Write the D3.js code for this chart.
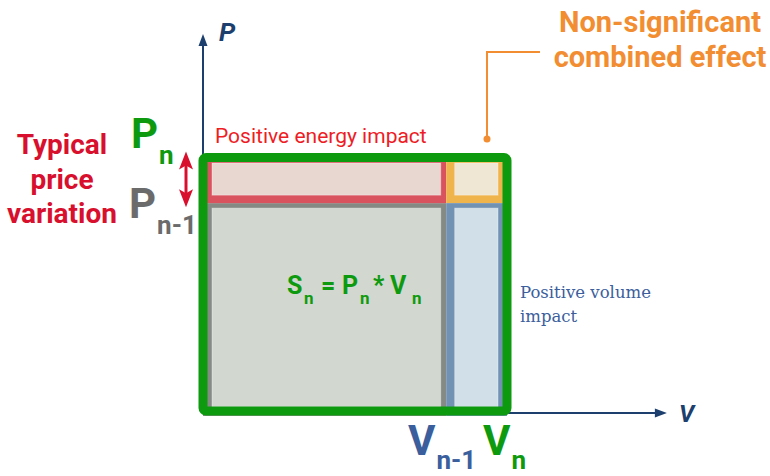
<!DOCTYPE html>
<html>
<head>
<meta charset="utf-8">
<script src="https://cdn.jsdelivr.net/npm/d3@7"></script>
<style>
  html, body { margin: 0; padding: 0; background: #ffffff; }
  svg { display: block; }
</style>
</head>
<body>
<svg id="chart" width="770" height="476"></svg>
<script>
// ---- data (relative units, previous period vs current period) ----
const volumeLevels = [0, 80, 100];   // 0, V(n-1), V(n)
const priceLevels  = [0, 82, 100];   // 0, P(n-1), P(n)
const axisMax = { volume: 152.6, price: 148.7 };
const cells = [
  { name: "base",     v: [0, 80],   p: [0, 82]   },
  { name: "energy",   v: [0, 80],   p: [82, 100] },
  { name: "combined", v: [80, 100], p: [82, 100] },
  { name: "volume",   v: [80, 100], p: [0, 82]   }
];
const labels = {
  pAxis: "P", vAxis: "V",
  energy: "Positive energy impact",
  volume: ["Positive volume", "impact"],
  combined: ["Non-significant", "combined effect"],
  variation: ["Typical", "price", "variation"]
};
const formulaParts = [
  { t: "S", sub: false }, { t: "n", sub: true }, { t: "=", sub: false },
  { t: "P", sub: false }, { t: "n", sub: true }, { t: "*", sub: false },
  { t: "V", sub: false }, { t: "n", sub: true }
];

// ---- styles ----
const colors = {
  axis: "#1c3f6e",
  green: "#0e9a0e",
  greyText: "#6b6b6b",
  blueText: "#3b5e9c",
  redText: "#d8102e",
  energyText: "#ee1c25",
  orange: "#f28d32"
};
const cellStyle = {
  base:     { stroke: "#858a85", fill: "#d2d7d0" },
  energy:   { stroke: "#d9535f", fill: "#e8d6d0" },
  combined: { stroke: "#f0b44c", fill: "#efe6d3" },
  volume:   { stroke: "#7292b4", fill: "#d0dfe8" }
};

const svg = d3.select("#chart");
const x = d3.scaleLinear().domain([0, 100]).range([203, 507]);
const y = d3.scaleLinear().domain([0, 100]).range([411, 157.5]);
const font = "Roboto, 'Noto Sans', sans-serif";

// ---- cells ----
const vMax = d3.max(volumeLevels), pMax = d3.max(priceLevels);
cells.forEach(c => {
  const st = cellStyle[c.name];
  const x0 = x(c.v[0]), x1 = x(c.v[1]);
  const yTop = y(c.p[1]), yBot = y(c.p[0]);
  const extraBottom = c.p[0] === 0 ? 5 : 0;
  svg.append("rect").attr("x", x0).attr("y", yTop)
    .attr("width", x1 - x0).attr("height", yBot - yTop + extraBottom)
    .attr("fill", st.stroke);
  const insL = c.v[0] === 0 ? 9 : 8.5;
  const insR = c.v[1] === vMax ? 9 : 5.5;
  const insT = c.p[1] === pMax ? 5.5 : 5;
  const insB = c.p[0] === 0 ? 4 : 8;
  svg.append("rect").attr("x", x0 + insL).attr("y", yTop + insT)
    .attr("width", x1 - x0 - insL - insR).attr("height", yBot - yTop - insT - insB)
    .attr("fill", st.fill)
    .attr("stroke", "rgba(255,255,255,0.35)").attr("stroke-width", 1);
});

// ---- axes ----
const axisG = svg.append("g");
axisG.append("line").attr("x1", x(0)).attr("x2", x(0))
  .attr("y1", y(0)).attr("y2", y(axisMax.price) + 10)
  .attr("stroke", colors.axis).attr("stroke-width", 2);
axisG.append("path")
  .attr("d", `M${x(0)},${y(axisMax.price)} L${x(0) - 4.5},${y(axisMax.price) + 12} L${x(0) + 4.5},${y(axisMax.price) + 12} Z`)
  .attr("fill", colors.axis);
axisG.append("line").attr("x1", x(0)).attr("x2", x(axisMax.volume) - 10)
  .attr("y1", y(0) + 2).attr("y2", y(0) + 2)
  .attr("stroke", colors.axis).attr("stroke-width", 2);
axisG.append("path")
  .attr("d", `M${x(axisMax.volume)},${y(0) + 2} L${x(axisMax.volume) - 12},${y(0) - 2.5} L${x(axisMax.volume) - 12},${y(0) + 6.5} Z`)
  .attr("fill", colors.axis);
axisG.append("text").attr("x", x(0) + 16).attr("y", 41)
  .attr("font-family", font).attr("font-weight", 700).attr("font-style", "italic")
  .attr("font-size", 26).attr("fill", colors.axis).text(labels.pAxis);
axisG.append("text").attr("x", x(axisMax.volume) + 12).attr("y", y(0) + 11)
  .attr("font-family", font).attr("font-weight", 700).attr("font-style", "italic")
  .attr("font-size", 24).attr("fill", colors.axis).text(labels.vAxis);

// ---- green outline of current period ----
svg.append("rect")
  .attr("x", x(0)).attr("y", y(pMax))
  .attr("width", x(vMax) - x(0)).attr("height", y(0) - y(pMax))
  .attr("rx", 3).attr("fill", "none")
  .attr("stroke", colors.green).attr("stroke-width", 9);

// ---- red double arrow ----
const ax = 186, aTop = y(priceLevels[2]) - 6, aBot = y(priceLevels[1]) + 4;
svg.append("line").attr("x1", ax).attr("x2", ax).attr("y1", aTop + 10).attr("y2", aBot - 10)
  .attr("stroke", colors.redText).attr("stroke-width", 3);
svg.append("path").attr("d", `M${ax},${aTop} L${ax - 7},${aTop + 18} L${ax},${aTop + 14} L${ax + 7},${aTop + 18} Z`)
  .attr("fill", colors.redText);
svg.append("path").attr("d", `M${ax},${aBot} L${ax - 7},${aBot - 18} L${ax},${aBot - 14} L${ax + 7},${aBot - 18} Z`)
  .attr("fill", colors.redText);

// ---- big P / V labels with subscripts ----
function bigLabel(main, sub, xPos, yBase, subDy, color) {
  const t = svg.append("text").attr("x", xPos).attr("y", yBase)
    .attr("font-family", font).attr("font-weight", 700).attr("fill", color);
  t.append("tspan").attr("font-size", 42).text(main);
  t.append("tspan").attr("font-size", 26).attr("dx", 1).attr("dy", subDy).text(sub);
}
bigLabel("P", "n", 131, 148, 16, colors.green);
bigLabel("P", "n-1", 129, 218, 16, colors.greyText);
bigLabel("V", "n-1", 408, 455, 14, colors.blueText);
bigLabel("V", "n", 483, 455, 14, colors.green);

// ---- formula ----
const fx = [287, 304, 321, 342, 360, 373, 390, 412];
const f = svg.append("text")
  .attr("font-family", font).attr("font-weight", 700).attr("fill", colors.green);
formulaParts.forEach((p, i) => {
  f.append("tspan").attr("x", fx[i]).attr("y", p.sub ? 304 : 294)
    .attr("font-size", p.sub ? 17 : 25).text(p.t);
});

// ---- annotations ----
svg.append("text").attr("x", 215).attr("y", 143)
  .attr("font-family", font).attr("font-size", 21).attr("fill", colors.energyText)
  .text(labels.energy);

const vt = svg.append("text").attr("font-family", "'DejaVu Serif', serif")
  .attr("font-size", 16.5).attr("fill", colors.blueText);
labels.volume.forEach((l, i) => vt.append("tspan").attr("x", 520).attr("y", 298 + i * 24).text(l));

const tv = svg.append("text").attr("text-anchor", "middle")
  .attr("font-family", font).attr("font-weight", 700).attr("font-size", 28)
  .attr("fill", colors.redText);
labels.variation.forEach((l, i) => tv.append("tspan").attr("x", 62).attr("y", 154 + i * 34.5).text(l));

const ct = svg.append("text").attr("text-anchor", "middle")
  .attr("font-family", font).attr("font-weight", 700).attr("font-size", 29)
  .attr("fill", colors.orange);
labels.combined.forEach((l, i) => ct.append("tspan").attr("x", 660).attr("y", 32 + i * 35).text(l));

svg.append("path").attr("d", "M540,52 H487 V139").attr("fill", "none")
  .attr("stroke", colors.orange).attr("stroke-width", 2);
svg.append("circle").attr("cx", 487).attr("cy", 139).attr("r", 3.5).attr("fill", colors.orange);
</script>
</body>
</html>
